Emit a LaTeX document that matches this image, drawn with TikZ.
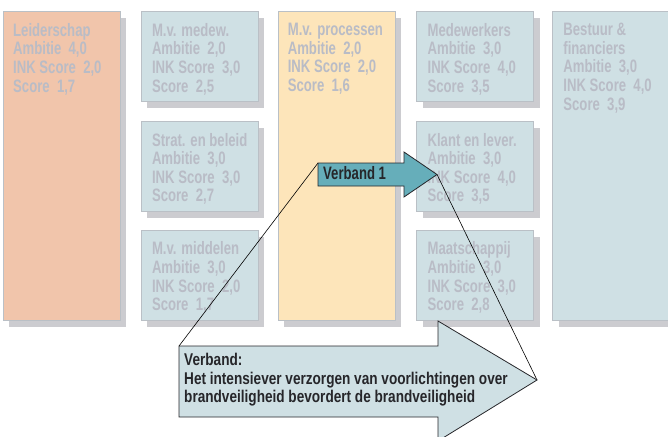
\documentclass[tikz,border=0pt]{standalone}
\usepackage{fontspec}
\newfontfamily\boxfont{Liberation Sans}[FakeStretch=0.73]
\newfontfamily\notefont{Liberation Sans}[FakeStretch=0.8]
\usepackage{tikz}
\usetikzlibrary{
	positioning,
	shadows,
	calc}
\definecolor{boxblue}{RGB}{207,224,228}
\definecolor{leiderfill}{RGB}{241,197,171}
\definecolor{procesfill}{RGB}{253,229,186}
\definecolor{boxedge}{RGB}{186,192,198}
\definecolor{shadowgrey}{RGB}{204,204,208}
\definecolor{scoregrey}{RGB}{185,188,198}
\definecolor{bandteal}{RGB}{102,174,186}
\definecolor{inkdark}{RGB}{38,38,42}
\tikzset{
	criterion/.style={
		draw=boxedge,
		line width=0.8pt,
		fill=boxblue,
		inner sep=0pt,
		anchor=north west,
		minimum width=117pt,
		minimum height=90pt,
		drop shadow={shadow xshift=6pt, shadow yshift=-7pt,
			fill=shadowgrey, opacity=1}
	},
	tall box/.style={minimum height=309pt},
	score text/.style={
		inner sep=0pt,
		align=left,
		text=scoregrey,
		font=\boxfont\bfseries\fontsize{18}{18.6}\selectfont
	},
	band arrow/.style={
		draw=inkdark,
		line width=0.8pt,
		fill=bandteal,
		line join=miter
	},
	note arrow/.style={
		draw=inkdark,
		line width=0.8pt,
		fill=boxblue,
		line join=miter
	},
	note text/.style={
		inner sep=0pt,
		align=left,
		text=inkdark,
		font=\notefont\bfseries\fontsize{17}{18.5}\selectfont
	},
	callout/.style={
		draw=black,
		line width=0.6pt
	},
}
\begin{document}
\begin{tikzpicture}[x=1pt, y=-1pt]
	\clip (0,0) rectangle (668,436);
	% criteria
	\node[criterion, tall box, fill=leiderfill] (leider) at (3,11) {};
	\node[criterion, right=20pt of leider.north east, anchor=north west] (medew) {};
	\node[criterion, below=19pt of medew] (strat) {};
	\node[criterion, below=18pt of strat] (middel) {};
	\node[criterion, tall box, fill=procesfill, right=19pt of medew.north east, anchor=north west] (proces) {};
	\node[criterion, right=21pt of proces.north east, anchor=north west] (mw) {};
	\node[criterion, below=19pt of mw] (klant) {};
	\node[criterion, below=18pt of klant] (maat) {};
	\node[criterion, tall box, minimum width=125pt, right=18pt of mw.north east, anchor=north west] (bestuur) {};
	% scores
	\node[score text, below right=12pt and 10pt of leider.north west] (leidertext)
		{Leiderschap\\Ambitie~ 4,0\\INK Score~ 2,0\\Score~ 1,7};
	\node[score text, below right=12pt and 11pt of medew.north west] (medewtext)
		{M.v. medew.\\Ambitie~ 2,0\\INK Score~ 3,0\\Score~ 2,5};
	\node[score text, below right=12pt and 11pt of strat.north west] (strattext)
		{Strat. en beleid\\Ambitie~ 3,0\\INK Score~ 3,0\\Score~ 2,7};
	\node[score text, below right=12pt and 11pt of middel.north west] (middeltext)
		{M.v. middelen\\Ambitie~ 3,0\\INK Score~ 2,0\\Score~ 1,7};
	\node[score text, below right=12pt and 10pt of proces.north west] (procestext)
		{M.v. processen\\Ambitie~ 2,0\\INK Score~ 2,0\\Score~ 1,6};
	\node[score text, below right=12pt and 11pt of mw.north west] (mwtext)
		{Medewerkers\\Ambitie~ 3,0\\INK Score~ 4,0\\Score~ 3,5};
	\node[score text, below right=12pt and 11pt of klant.north west] (klanttext)
		{Klant en lever.\\Ambitie~ 3,0\\INK Score~ 4,0\\Score~ 3,5};
	\node[score text, below right=12pt and 11pt of maat.north west] (maattext)
		{Maatschappij\\Ambitie~ 3,0\\INK Score~ 3,0\\Score~ 2,8};
	\node[score text, below right=12pt and 11pt of bestuur.north west] (bestuurtext)
		{Bestuur \&\\financiers\\Ambitie~ 3,0\\INK Score~ 4,0\\Score~ 3,9};
	% verband arrows
	\coordinate (v1corner) at (318,163);
	\coordinate (v1tip) at (437,174.5);
	\coordinate (notecorner) at (179,346);
	\coordinate (notetip) at (537,380);
	\draw[callout] (v1corner) -- (notecorner);
	\draw[callout] (v1tip) -- (notetip);
	\draw[band arrow] (v1corner) -- (404,163) -- (404,152) -- (v1tip)
		-- (404,197) -- (404,186) -- (318,186) -- cycle;
	\node[note text, font=\boxfont\bfseries\fontsize{18}{18.5}\selectfont,
		anchor=base west] (v1label) at (323,179.5) {Verband 1};
	\draw[note arrow] (notecorner) -- (438,346) -- (438,321) -- (notetip)
		-- (438,441) -- (438,417) -- (179,417) -- cycle;
	\node[note text, below right=7pt and 5pt of notecorner] (notelabel)
		{Verband:\\Het intensiever verzorgen van voorlichtingen over\\brandveiligheid bevordert de brandveiligheid};
\end{tikzpicture}
\end{document}
